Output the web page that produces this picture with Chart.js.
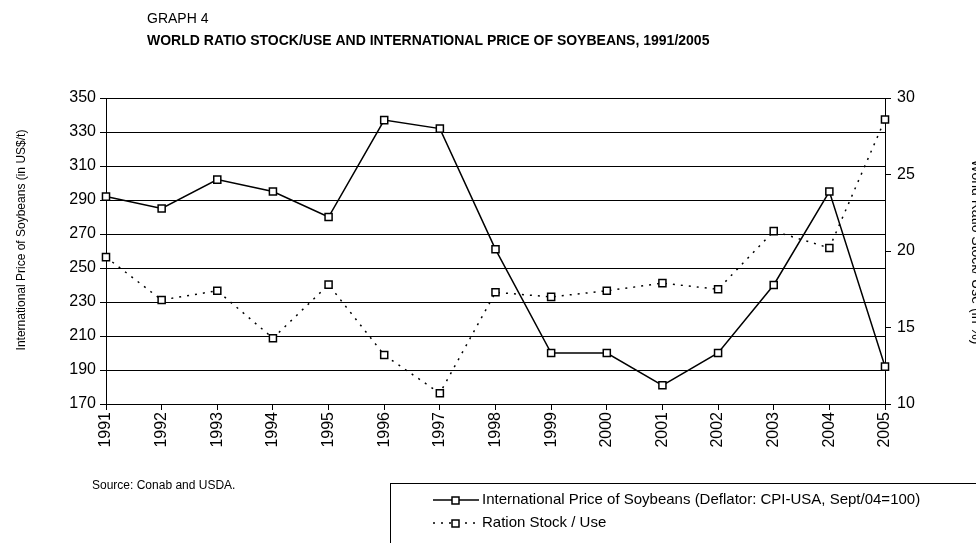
<!DOCTYPE html>
<html>
<head>
<meta charset="utf-8">
<script src="https://cdn.jsdelivr.net/npm/chart.js@4.4.0/dist/chart.umd.min.js"></script>
<style>
  html, body { margin: 0; padding: 0; background: #fff; }
  #wrap { width: 976px; height: 543px; position: relative; }
</style>
</head>
<body>
<div id="wrap"><canvas id="soyChart" width="976" height="543"></canvas></div>
<script>
// Data
const years = ['1991', '1992', '1993', '1994', '1995', '1996', '1997', '1998',
               '1999', '2000', '2001', '2002', '2003', '2004', '2005'];
const priceValues = [292, 285, 302, 295, 280, 337, 332, 261, 200, 200, 181, 200, 240, 295, 192];
const ratioValues = [19.6, 16.8, 17.4, 14.3, 17.8, 13.2, 10.7, 17.3, 17.0, 17.4, 17.9, 17.5, 21.3, 20.2, 28.6];
const priceTicks = [170, 190, 210, 230, 250, 270, 290, 310, 330, 350];
const ratioTicks = [10, 15, 20, 25, 30];

const FONT = 'Arial, "Liberation Sans", Helvetica, sans-serif';

// Titles, source note, legend box and axis titles
const decorPlugin = {
    id: 'decor',
    afterDraw(chart) {
        const ctx = chart.ctx;
        ctx.save();
        ctx.fillStyle = '#000';
        ctx.textBaseline = 'middle';
        ctx.textAlign = 'left';
        ctx.font = '14px ' + FONT;
        ctx.fillText('GRAPH 4', 147, 19);
        ctx.font = 'bold 14px ' + FONT;
        ctx.fillText('WORLD RATIO STOCK/USE AND INTERNATIONAL PRICE OF SOYBEANS, 1991/2005', 147, 41);

        ctx.font = '12px ' + FONT;
        ctx.fillText('Source: Conab and USDA.', 92, 486);

        // left axis title
        ctx.save();
        ctx.translate(22, 240);
        ctx.rotate(-Math.PI / 2);
        ctx.textAlign = 'center';
        ctx.font = '12px ' + FONT;
        ctx.fillText('International Price of Soybeans (in US$/t)', 0, 0);
        ctx.restore();

        // right axis title, rotated clockwise and running off the edge
        ctx.save();
        ctx.translate(976, 252);
        ctx.rotate(Math.PI / 2);
        ctx.textAlign = 'center';
        ctx.font = '14px ' + FONT;
        ctx.fillText('World Ratio Stock/ Use (in %)', 0, 0);
        ctx.restore();

        // legend
        ctx.strokeStyle = '#000';
        ctx.lineWidth = 1;
        ctx.strokeRect(390.5, 483.5, 700, 100);
        const rows = [500, 523];
        chart.data.datasets.forEach((ds, i) => {
            const y = rows[i];
            ctx.beginPath();
            ctx.setLineDash(ds.borderDash || []);
            ctx.lineWidth = 1.5;
            ctx.moveTo(433, y);
            ctx.lineTo(479, y);
            ctx.stroke();
            ctx.setLineDash([]);
            ctx.fillStyle = '#fff';
            ctx.fillRect(452, y - 3, 7, 7);
            ctx.strokeRect(452, y - 3, 7, 7);
            ctx.fillStyle = '#000';
            ctx.font = '15px ' + FONT;
            ctx.textAlign = 'left';
            ctx.fillText(ds.label, 482, y);
        });
        ctx.restore();
    }
};

const ctx = document.getElementById('soyChart').getContext('2d');
new Chart(ctx, {
    type: 'line',
    data: {
        labels: years,
        datasets: [{
            label: 'International Price of Soybeans (Deflator: CPI-USA, Sept/04=100)',
            data: priceValues,
            yAxisID: 'y',
            borderColor: '#000',
            borderWidth: 1.5,
            pointStyle: 'rect',
            pointRadius: 5,
            pointBorderWidth: 1.5,
            pointBackgroundColor: '#fff',
            pointBorderColor: '#000',
            tension: 0,
            fill: false
        }, {
            label: 'Ration Stock / Use',
            data: ratioValues,
            yAxisID: 'y1',
            borderColor: '#000',
            borderWidth: 1.5,
            borderDash: [2, 6],
            pointStyle: 'rect',
            pointRadius: 5,
            pointBorderWidth: 1.5,
            pointBackgroundColor: '#fff',
            pointBorderColor: '#000',
            tension: 0,
            fill: false
        }]
    },
    options: {
        responsive: false,
        animation: false,
        layout: { padding: { left: 0, right: 0, top: 98, bottom: 0 } },
        plugins: {
            legend: { display: false },
            tooltip: { enabled: false }
        },
        scales: {
            x: {
                offset: false,
                afterFit: s => { s.height = 139; },
                grid: { drawOnChartArea: false, tickLength: 6, color: '#000' },
                border: { color: '#000', width: 1 },
                ticks: {
                    minRotation: 90,
                    maxRotation: 90,
                    color: '#000',
                    padding: 2,
                    font: { size: 16, family: FONT }
                }
            },
            y: {
                position: 'left',
                min: 170,
                max: 350,
                afterFit: s => { s.width = 106; },
                afterBuildTicks: s => { s.ticks = priceTicks.map(v => ({ value: v })); },
                grid: { color: '#000', lineWidth: 1, tickLength: 6 },
                border: { color: '#000', width: 1 },
                ticks: {
                    color: '#000',
                    padding: 4,
                    font: { size: 16, family: FONT }
                }
            },
            y1: {
                position: 'right',
                min: 10,
                max: 30,
                afterFit: s => { s.width = 91; },
                afterBuildTicks: s => { s.ticks = ratioTicks.map(v => ({ value: v })); },
                grid: { drawOnChartArea: false, color: '#000', tickLength: 6 },
                border: { color: '#000', width: 1 },
                ticks: {
                    color: '#000',
                    padding: 6,
                    font: { size: 16, family: FONT }
                }
            }
        }
    },
    plugins: [decorPlugin]
});
</script>
</body>
</html>
